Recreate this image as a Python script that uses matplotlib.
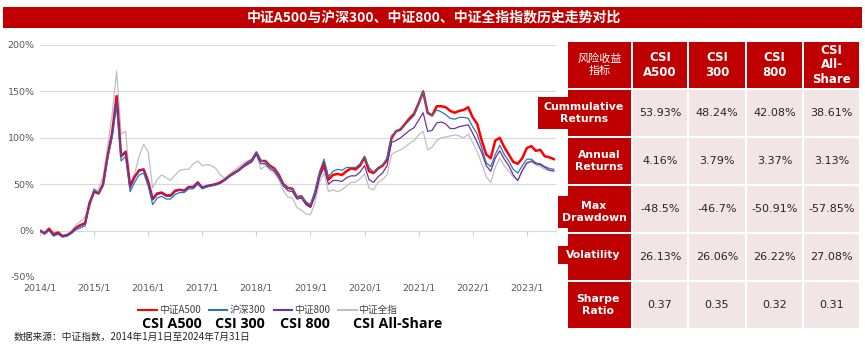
import matplotlib
matplotlib.use('Agg')
import matplotlib.pyplot as plt
from matplotlib.patches import Rectangle
from matplotlib.lines import Line2D
import numpy as np

plt.rcParams['font.family'] = ['DejaVu Sans', 'Noto Sans CJK SC']

# ---------------- data (monthly readings, % cumulative return) ----------------
a500 = [0, -3, 2, -4, -2, -6, -5, -2, 3, 6, 8, 30,
        42, 40, 50, 80, 105, 145, 80, 85, 48, 58, 65, 66,
        53, 34, 40, 41, 38, 38, 43, 44, 43, 47, 47, 52,
        46, 48, 49, 50, 52, 55, 59, 62, 65, 69, 73, 76,
        84, 75, 75, 70, 67, 60, 50, 46, 45, 36, 37, 30,
        26, 40, 60, 73, 55, 60, 61, 60, 64, 67, 66, 70,
        79, 64, 62, 67, 70, 76, 100, 107, 109, 115, 121, 126,
        137, 150, 127, 124, 134, 134, 133, 129, 127, 129, 130, 133,
        122, 115, 97, 82, 78, 97, 100, 90, 82, 74, 72, 78,
        89, 91, 86, 87, 80, 79, 77]
csi300 = [0, -4, 0, -6, -4, -7, -6, -3, 1, 3, 5, 28,
          45, 40, 48, 78, 100, 135, 75, 80, 42, 52, 60, 62,
          48, 28, 35, 37, 34, 34, 39, 41, 41, 45, 45, 50,
          45, 47, 48, 49, 51, 55, 59, 62, 65, 69, 73, 76,
          85, 75, 74, 69, 66, 59, 50, 46, 44, 36, 37, 31,
          28, 42, 63, 77, 58, 64, 66, 65, 68, 68, 68, 72,
          80, 68, 63, 68, 71, 78, 102, 107, 108, 114, 119, 124,
          136, 150, 126, 124, 130, 128, 125, 121, 120, 122, 122, 121,
          112, 104, 89, 73, 69, 82, 92, 82, 75, 66, 62, 70,
          77, 77, 73, 72, 69, 67, 66]
csi800 = [0, -3, 1, -5, -3, -6, -5, -2, 3, 5, 7, 29,
          42, 40, 50, 80, 104, 142, 80, 85, 46, 57, 64, 66,
          52, 33, 39, 40, 37, 37, 42, 44, 43, 47, 47, 52,
          47, 48, 49, 50, 51, 54, 58, 61, 64, 68, 71, 74,
          82, 72, 72, 67, 64, 57, 48, 43, 42, 34, 35, 28,
          25, 37, 57, 68, 50, 54, 54, 53, 57, 59, 59, 63,
          70, 55, 52, 58, 62, 70, 95, 97, 100, 104, 108, 111,
          119, 127, 107, 108, 116, 117, 115, 110, 110, 112, 113, 114,
          105, 95, 84, 70, 64, 78, 86, 77, 70, 60, 54, 65,
          73, 75, 72, 71, 68, 65, 64]
allshare = [0, -3, 2, -4, -2, -5, -4, 0, 6, 10, 15, 24,
            41, 45, 58, 90, 125, 172, 104, 107, 50, 62, 80, 93,
            85, 46, 55, 60, 57, 54, 60, 65, 66, 66, 72, 75,
            70, 71, 70, 67, 60, 56, 60, 65, 68, 72, 75, 77,
            82, 66, 70, 65, 62, 55, 43, 36, 35, 25, 22, 18,
            17, 30, 52, 62, 42, 44, 42, 44, 48, 52, 52, 56,
            61, 46, 44, 52, 55, 60, 82, 85, 87, 90, 94, 97,
            103, 107, 87, 90, 97, 100, 101, 102, 103, 102, 100, 104,
            95, 85, 72, 58, 52, 68, 78, 70, 64, 58, 54, 64,
            72, 74, 71, 69, 66, 65, 65]

series_names = ['中证A500', '沪深300', '中证800', '中证全指']
series_en = ['CSI A500', 'CSI 300', 'CSI 800', 'CSI All-Share']
series_colors = ['#FF0000', '#2E75B6', '#7030A0', '#BFBFBF']

xtick_labels = ['2014/1', '2015/1', '2016/1', '2017/1', '2018/1',
                '2019/1', '2020/1', '2021/1', '2022/1', '2023/1']
ytick_values = [-50, 0, 50, 100, 150, 200]

title = '中证A500与沪深300、中证800、中证全指指数历史走势对比'
source = '数据来源：中证指数，2014年1月1日至2024年7月31日'

table_header = ['风险收益\n指标', 'CSI\nA500', 'CSI\n300', 'CSI\n800', 'CSI\nAll-\nShare']
row_labels = ['Cummulative\nReturns', 'Annual\nReturns', 'Max\nDrawdown', 'Volatility', 'Sharpe\nRatio']
cum_returns = ['53.93%', '48.24%', '42.08%', '38.61%']
annual_returns = ['4.16%', '3.79%', '3.37%', '3.13%']
max_drawdown = ['-48.5%', '-46.7%', '-50.91%', '-57.85%']
volatility = ['26.13%', '26.06%', '26.22%', '27.08%']
sharpe = ['0.37', '0.35', '0.32', '0.31']

# ---------------- figure ----------------
W, H = 865, 352
fig = plt.figure(figsize=(W / 100, H / 100), dpi=100)
fig.patch.set_facecolor('white')


def fx(x):
    return x / W


def fy(y):
    return 1 - y / H


def rect(x0, y0, x1, y1, color, z=1):
    fig.add_artist(Rectangle((fx(x0), fy(y1)), fx(x1) - fx(x0), fy(y0) - fy(y1),
                             transform=fig.transFigure, facecolor=color,
                             edgecolor='none', zorder=z))


RED = '#C00000'

# title banner
rect(3, 7, 862, 28, RED)
fig.text(fx(434), fy(17.5), title, color='white', fontsize=10, fontweight='bold',
         ha='center', va='center', family=['Noto Sans CJK SC', 'DejaVu Sans'])

# ---------------- line chart ----------------
ax = fig.add_axes([fx(40), fy(277), fx(556) - fx(40), fy(45) - fy(277)])
t = np.arange(len(a500)) / 12.0
ax.plot(t, allshare, color=series_colors[3], lw=0.9, zorder=2)
ax.plot(t, a500, color=series_colors[0], lw=1.8, zorder=3)
ax.plot(t, csi300, color=series_colors[1], lw=0.9, zorder=4)
ax.plot(t, csi800, color=series_colors[2], lw=0.9, zorder=5)

ax.set_xlim(0, 9.54)
ax.set_ylim(-50, 200)
ax.set_yticks(ytick_values)
ax.set_yticklabels([f'{v}%' for v in ytick_values])
ax.set_xticks(range(len(xtick_labels)))
ax.set_xticklabels(xtick_labels)
ax.grid(axis='y', color='#D9D9D9', lw=0.8)
ax.set_axisbelow(True)
for s in ax.spines.values():
    s.set_visible(False)
ax.tick_params(axis='both', length=0, labelsize=6.8, labelcolor='#595959')
ax.tick_params(axis='y', pad=4)
ax.tick_params(axis='x', pad=5)

# category axis crossing at 0% with tick marks
sec = ax.secondary_xaxis(50 / 250)
sec.set_xticks(range(len(xtick_labels)))
sec.set_xticklabels([])
sec.tick_params(length=3.5, color='#D0D0D0', width=0.8, direction='out')
sec.spines['bottom'].set_color('#D9D9D9')
sec.spines['bottom'].set_linewidth(0.8)

# legend
handles = [Line2D([], [], color=c, lw=1.5) for c in series_colors]
fig.legend(handles, series_names, ncol=4, loc='center',
           bbox_to_anchor=(fx(268), fy(310)), frameon=False,
           prop={'family': ['Noto Sans CJK SC', 'DejaVu Sans'], 'size': 7},
           handlelength=1.9, handletextpad=0.2, columnspacing=0.85,
           labelcolor='#404040')
en_x = [172, 240, 305, 398]
for name, x in zip(series_en, en_x):
    fig.text(fx(x), fy(324), name, fontsize=10.3, fontweight='bold',
             ha='center', va='center', color='black',
             family=['Open Sans', 'DejaVu Sans'])

fig.text(fx(14), fy(337), source, fontsize=7, ha='left', va='center',
         color='#262626', family=['Noto Sans CJK SC', 'DejaVu Sans'])

# ---------------- table ----------------
col_edges = [567, 632, 688, 746, 803, 860]
row_edges = [41, 89, 137, 185, 233, 281, 329]
PINK = '#F2E5E5'
g = 0.8
rows_vals = [cum_returns, annual_returns, max_drawdown, volatility, sharpe]

for ci in range(5):
    x0, x1 = col_edges[ci] + g, col_edges[ci + 1] - g
    for ri in range(6):
        y0, y1 = row_edges[ri] + g, row_edges[ri + 1] - g
        color = RED if (ri == 0 or ci == 0) else PINK
        rect(x0, y0, x1, y1, color)

# extended label boxes
rect(538, 97, 631, 129, RED, z=2)
rect(558, 196, 631, 228, RED, z=2)
rect(558, 246, 631, 264, RED, z=2)

for ci, txt in enumerate(table_header):
    xc = (col_edges[ci] + col_edges[ci + 1]) / 2
    yc = (row_edges[0] + row_edges[1]) / 2
    if ci == 0:
        fig.text(fx(xc), fy(yc), txt, color='white', fontsize=8, ha='center',
                 va='center', linespacing=1.25, zorder=3,
                 family=['Noto Sans CJK SC', 'DejaVu Sans'])
    else:
        fig.text(fx(xc), fy(yc), txt, color='white', fontsize=8.5,
                 fontweight='bold', ha='center', va='center', linespacing=1.15,
                 zorder=3)

label_x = [584, 599, 594, 593, 598]
label_y = [113, 161, 212, 255, 305]
for ri, txt in enumerate(row_labels):
    fig.text(fx(label_x[ri]), fy(label_y[ri]), txt, color='white', fontsize=7.8,
             fontweight='bold', ha='center', va='center', linespacing=1.2,
             zorder=3)
    for ci, v in enumerate(rows_vals[ri]):
        xc = (col_edges[ci + 1] + col_edges[ci + 2]) / 2
        yc = (row_edges[ri + 1] + row_edges[ri + 2]) / 2
        fig.text(fx(xc), fy(yc), v, color='#262626', fontsize=8,
                 ha='center', va='center', zorder=3)

fig.savefig('out.png', dpi=100, facecolor='white')
